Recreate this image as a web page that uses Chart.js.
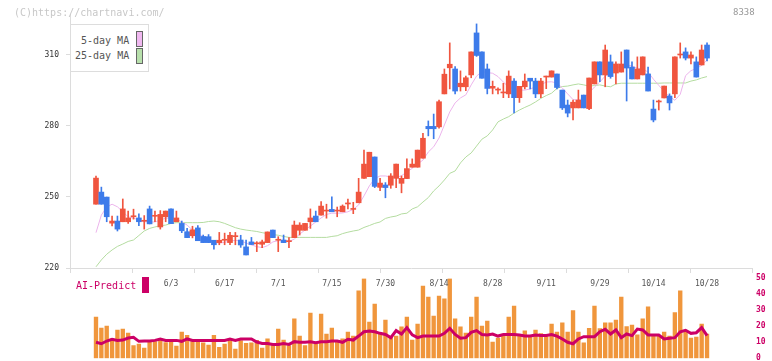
<!DOCTYPE html>
<html><head><meta charset="utf-8">
<script src="https://cdn.jsdelivr.net/npm/chart.js@4.4.1/dist/chart.umd.min.js"></script>
<style>
html,body{margin:0;padding:0;background:#fff;width:772px;height:361px;overflow:hidden;}
#wrap{position:relative;width:772px;height:361px;}
canvas{position:absolute;left:0;top:0;}
.t{position:absolute;font-family:'DejaVu Sans Mono',monospace;white-space:nowrap;line-height:1;}
</style></head><body>
<div id="wrap">
<canvas id="c2" width="772" height="361"></canvas>
<canvas id="c1" width="772" height="300"></canvas>
<div class="t" style="left:14px;top:8px;font-size:10px;color:#c8c8c8">(C)https://chartnavi.com/</div>
<div class="t" style="left:733px;top:8px;font-size:9px;color:#999">8338</div>
<div style="position:absolute;left:70px;top:24px;width:77px;height:46px;border:1px solid #ddd;background:#fff"></div>
<div class="t" style="left:81px;top:36px;font-size:10px;color:#555">5-day MA</div>
<div class="t" style="left:75px;top:51px;font-size:10px;color:#555">25-day MA</div>
<div style="position:absolute;left:136px;top:31px;width:5px;height:14px;border:1px solid #666;background:#f0b8f0"></div>
<div style="position:absolute;left:136px;top:48px;width:5px;height:14px;border:1px solid #666;background:#b8e0ac"></div>
<div class="t" style="left:76px;top:281px;font-size:10px;color:#cc0066">AI-Predict</div>
<div style="position:absolute;left:142px;top:277px;width:7px;height:16px;background:#cc0066"></div>
</div>
<script>
const dateLabels = ['6/3','6/17','7/1','7/15','7/30','8/14','8/28','9/11','9/29','10/14','10/28'];
const tickIdx = [14,24,34,44,54,64,74,84,94,104,114];
const yTicks = [220,250,280,310];
const volTicks = [0,10,20,30,40,50];
const gridK = [0,1,2,3,4,5,6,7,8,9,10,11];

const open = [246.9,252.0,249.9,238.9,239.8,239.5,239.5,241.6,241.1,239.7,244.9,241.8,237.3,241.6,244.9,239.5,238.8,235.3,233.6,236.9,
233.3,233.2,231.7,230.7,231.7,230.7,233.2,231.8,228.9,231.0,230.2,230.0,230.7,236.0,231.7,231.8,231.1,232.8,235.9,235.9,
239.5,241.9,242.3,244.0,244.7,244.0,243.7,247.0,244.7,247.5,257.8,258.5,266.8,254.0,255.0,254.9,257.8,255.7,257.7,262.5,
262.5,266.3,279.7,279.7,279.5,293.4,304.4,303.9,296.4,296.4,301.4,319.1,311.1,303.9,295.8,295.0,293.8,293.4,298.8,291.8,
296.4,300.0,298.8,293.4,300.5,300.5,301.8,295.0,288.7,287.5,287.5,292.9,287.2,297.6,306.9,301.4,306.9,302.2,302.6,311.9,
304.7,299.7,301.4,301.8,287.0,290.0,291.7,292.5,293.4,309.8,311.1,308.5,306.9,305.6,314.0];
const high = [258.8,254.1,249.9,241.9,241.9,249.1,244.0,244.8,242.8,242.1,246.1,244.0,244.2,244.0,244.9,244.0,239.8,236.7,237.6,237.9,
233.9,234.1,231.7,235.0,234.7,235.0,235.0,233.8,231.8,232.9,231.1,231.8,235.2,236.0,233.2,233.9,232.8,239.8,239.1,238.8,
244.9,244.0,248.0,246.9,250.0,245.7,246.6,249.1,247.7,257.8,269.7,268.8,266.8,257.8,256.0,259.8,263.8,258.8,266.0,266.0,
269.7,276.8,282.0,284.9,290.8,303.9,314.9,304.9,303.1,300.9,311.1,322.9,311.1,306.0,298.8,296.0,297.9,303.1,299.9,296.6,
301.8,300.0,300.0,300.0,300.9,303.1,301.8,295.0,290.8,290.8,295.0,292.9,300.1,306.9,306.9,314.0,309.8,306.9,311.1,311.9,
306.9,309.0,309.0,304.7,290.8,290.8,296.7,293.4,309.0,314.9,312.8,311.1,309.0,314.0,314.9];
const low = [246.9,246.9,239.5,237.7,235.6,239.5,238.8,240.6,237.8,236.4,238.6,239.5,236.4,239.5,238.7,239.5,234.9,232.8,232.7,231.5,
230.7,230.7,227.9,229.8,229.8,229.8,229.8,228.7,225.5,229.9,226.9,228.6,230.7,232.8,226.9,230.7,228.6,232.8,233.9,235.9,
236.7,239.5,242.3,241.0,243.7,241.6,243.7,244.9,242.9,247.5,257.8,258.5,253.9,252.6,249.6,253.6,253.9,251.7,257.7,262.5,
262.5,266.3,275.7,274.5,278.9,293.4,295.5,293.4,294.6,294.8,300.2,309.2,300.0,293.4,293.4,293.4,291.8,291.8,285.4,289.8,
295.5,295.5,291.8,291.8,295.6,300.5,295.5,286.8,283.7,282.4,287.5,287.5,286.8,297.6,298.6,296.4,300.0,297.6,302.6,290.4,
299.7,299.7,301.4,294.6,281.6,286.6,291.7,286.6,291.8,308.5,307.7,306.0,300.5,305.6,307.3];
const close = [257.9,246.9,241.6,239.8,236.4,244.9,241.1,241.6,239.5,239.7,238.6,241.8,242.6,244.0,238.7,241.1,235.7,232.8,236.1,231.5,
230.7,230.7,229.8,231.7,231.7,233.8,233.2,229.7,225.5,229.9,230.2,231.0,235.2,232.8,231.7,230.7,231.1,238.1,238.1,238.8,
241.1,239.5,246.1,244.0,243.7,244.0,246.1,247.0,244.7,252.0,263.8,268.8,254.4,255.8,253.9,258.8,263.8,257.8,261.9,263.8,
269.7,274.7,278.7,278.7,290.1,301.7,305.9,294.6,297.9,300.2,311.1,309.6,300.0,295.7,296.6,295.0,293.8,300.9,291.8,296.6,
298.8,298.8,293.4,298.8,300.5,303.1,296.1,287.5,285.3,289.9,290.8,287.5,300.1,306.9,301.4,311.9,300.7,306.0,306.0,304.3,
299.7,303.9,309.0,294.6,282.4,290.0,296.7,289.6,309.0,309.8,308.5,309.8,300.5,311.9,308.5];
const ma5 = [234.9,242.3,245.7,246.9,245.8,243.7,241.6,241.0,240.2,239.5,239.4,239.4,240.2,241.0,241.1,240.7,239.4,238.1,236.0,234.6,
233.1,231.8,231.0,230.5,230.8,231.4,231.6,231.5,230.5,229.7,229.0,228.6,229.4,231.0,231.5,231.5,231.1,232.2,234.3,236.0,
237.7,239.4,241.1,242.6,243.1,243.1,243.2,243.7,244.7,246.6,250.4,254.6,257.7,258.8,258.8,258.4,258.1,258.9,260.5,262.0,
263.8,265.5,268.9,271.1,274.8,280.3,285.8,289.6,291.7,293.0,297.2,300.9,302.8,302.4,302.1,300.7,298.4,296.3,295.5,295.0,
295.0,295.5,296.3,297.2,298.4,298.5,298.0,295.9,293.4,291.0,290.8,291.7,293.8,296.3,298.4,300.9,302.1,304.3,305.0,305.6,
305.2,304.2,303.9,302.6,299.6,297.0,294.4,292.3,290.7,293.2,301.1,303.2,304.1,305.4,307.7];
const ma25 = [220.5,223.4,225.8,227.6,229.1,230.1,231.2,231.8,233.7,235.6,236.7,237.3,237.8,238.1,238.8,239.1,239.1,239.1,239.1,239.1,
239.2,239.6,239.8,239.5,238.8,237.9,237.0,236.4,236.0,235.7,235.4,234.9,234.5,234.1,233.8,233.3,232.9,232.9,232.9,232.9,
232.9,232.9,232.9,232.9,233.3,233.6,234.5,235.1,235.6,236.0,237.1,237.9,238.8,239.4,240.9,241.5,241.9,242.8,243.1,244.9,
245.8,247.8,249.7,252.5,254.6,257.1,259.9,260.9,264.3,266.8,268.5,271.4,274.3,275.7,278.2,281.6,282.8,283.8,285.3,286.6,
287.7,288.7,290.0,291.5,292.7,293.7,295.7,296.5,296.7,297.2,297.6,297.2,296.7,296.9,297.2,296.7,296.4,297.6,297.9,297.9,
297.9,297.9,297.9,297.9,297.9,297.9,298.0,298.0,298.0,298.0,298.0,298.8,299.3,300.1,300.7];
const vol = [25.8,18.9,20.2,12.1,17.7,18.3,15.8,7.9,8.9,6.4,10.6,10.4,12.1,9.8,10.4,7.7,16.4,14.4,10.4,10.4,
9.6,8.3,14.4,6.9,8.9,12.1,5.8,11.0,9.4,9.6,11.2,6.4,12.1,8.9,18.3,11.4,7.9,24.6,13.9,7.9,
28.3,8.9,27.7,15.2,18.9,10.0,12.1,16.4,13.9,42.1,49.6,22.7,33.9,15.2,23.9,13.5,13.9,19.6,25.8,11.4,
21.4,45.2,38.3,26.4,38.9,37.1,49.6,24.6,19.6,15.8,25.8,38.3,20.2,23.3,10.2,12.7,14.6,25.8,32.7,13.9,
17.1,13.9,17.7,15.5,13.6,21.4,16.4,22.1,16.4,29.8,16.4,9.6,18.7,32.7,18.5,22.1,22.1,23.9,38.3,19.8,
20.8,14.6,24.6,32.1,14.6,13.9,16.4,13.9,28.5,42.1,16.4,12.7,13.3,21.4,15.2];
const aiPredict = [10.0,9.1,10.8,11.9,11.2,11.4,12.7,13.1,10.6,10.8,10.8,11.2,12.1,11.2,11.2,11.2,10.6,12.1,11.2,11.2,
11.2,11.2,11.2,11.2,11.2,12.1,11.2,12.1,12.1,12.1,10.2,9.3,9.3,8.7,8.7,9.3,8.7,10.4,10.0,10.0,
10.4,9.8,10.4,10.4,10.8,10.8,10.0,11.9,11.4,13.9,16.6,17.1,16.6,15.6,14.9,12.9,17.3,15.2,19.2,14.6,
12.9,13.9,13.9,13.9,13.9,15.6,18.7,14.9,12.5,12.9,16.2,17.3,14.9,14.6,15.2,13.9,14.9,14.9,14.9,14.6,
13.9,13.9,14.6,14.2,14.2,14.9,13.9,12.1,10.0,9.1,12.1,13.5,13.5,13.5,16.6,18.1,15.2,17.7,12.9,15.2,
14.2,18.3,17.7,14.6,14.6,14.6,12.1,12.5,12.9,16.6,17.5,15.6,16.0,19.2,14.2];

const XMIN = -4.85, XMAX = 122.39;
const RED = '#f0553f', BLUE = '#3d7bea';
const idx = close.map((_, i) => i);
const colr = idx.map(i => close[i] >= open[i] ? RED : BLUE);
Chart.defaults.font.family = "'DejaVu Sans Mono', monospace";

new Chart(document.getElementById('c1'), {
  type: 'bar',
  data: { datasets: [
    { type: 'line', xAxisID: 'x', yAxisID: 'y', data: idx.map(i => ({x: i, y: ma25[i]})), borderColor: '#b4dca0', borderWidth: 1, pointRadius: 0, order: 4 },
    { type: 'line', xAxisID: 'x', yAxisID: 'y', data: idx.map(i => ({x: i, y: ma5[i]})), borderColor: '#ecb4ec', borderWidth: 1, pointRadius: 0, order: 3 },
    { xAxisID: 'x', yAxisID: 'y', data: idx.map(i => ({x: i, y: [low[i], high[i]]})), backgroundColor: colr, barThickness: 1, grouped: false, order: 2 },
    { xAxisID: 'x', yAxisID: 'y', data: idx.map(i => ({x: i, y: [Math.min(open[i], close[i]), Math.max(open[i], close[i])]})), backgroundColor: colr, barThickness: 5, minBarLength: 1, grouped: false, order: 1 }
  ]},
  options: {
    responsive: false, animation: false, devicePixelRatio: 1,
    layout: { padding: { top: 14, right: 20, left: 0, bottom: 0 } },
    plugins: { legend: { display: false }, tooltip: { enabled: false } },
    scales: {
      xg: { type: 'linear', position: 'bottom', min: 0, max: 11, weight: 0, offset: false,
        afterBuildTicks: s => { s.ticks = gridK.map(v => ({value: v})); },
        afterFit: s => { s.height = 5; s.paddingLeft = 0; s.paddingRight = 0; },
        grid: { display: true, offset: false, drawOnChartArea: false, drawTicks: true, tickLength: 5, color: '#dcdcdc' },
        border: { display: true, color: '#dcdcdc' },
        ticks: { display: false } },
      x: { type: 'linear', position: 'bottom', min: XMIN, max: XMAX, weight: 1, offset: false,
        afterBuildTicks: s => { s.ticks = tickIdx.map(v => ({value: v})); },
        afterFit: s => { s.height = 27; s.paddingLeft = 0; s.paddingRight = 0; },
        grid: { display: false, offset: false }, border: { display: false },
        ticks: { autoSkip: false, maxRotation: 0, padding: -2, color: '#555', font: { size: 8 },
          callback: v => dateLabels[tickIdx.indexOf(v)] } },
      y: { type: 'linear', position: 'left', min: 220, max: 327.08,
        afterBuildTicks: s => { s.ticks = yTicks.map(v => ({value: v})); },
        afterFit: s => { s.width = 70; s.paddingTop = 0; s.paddingBottom = 0; },
        grid: { drawOnChartArea: false, tickLength: 4, color: '#dcdcdc' },
        border: { display: true, color: '#dcdcdc' },
        ticks: { padding: 7, color: '#333', font: { size: 8 } } }
    }
  }
});

new Chart(document.getElementById('c2'), {
  type: 'bar',
  data: { datasets: [
    { type: 'line', xAxisID: 'x', yAxisID: 'y', data: idx.map(i => ({x: i, y: aiPredict[i]})), borderColor: '#cc0066', borderWidth: 3, pointRadius: 0, order: 0 },
    { xAxisID: 'x', yAxisID: 'y', data: idx.map(i => ({x: i, y: vol[i]})), backgroundColor: '#f0963c', barThickness: 3.7, order: 1 }
  ]},
  options: {
    responsive: false, animation: false, devicePixelRatio: 1,
    layout: { padding: { top: 278.3, right: 0, left: 70, bottom: 2.7 } },
    plugins: { legend: { display: false }, tooltip: { enabled: false } },
    scales: {
      x: { type: 'linear', min: XMIN, max: XMAX, display: false, offset: false, grid: { offset: false } },
      y: { type: 'linear', position: 'right', min: 0, max: 50,
        afterBuildTicks: s => { s.ticks = volTicks.map(v => ({value: v})); },
        afterFit: s => { s.width = 20; s.paddingTop = 0; s.paddingBottom = 0; },
        grid: { display: false, drawTicks: false }, border: { display: false },
        ticks: { padding: 4, color: '#cc0066', font: { size: 8, weight: 'bold' } } }
    }
  }
});
</script>
</body></html>
